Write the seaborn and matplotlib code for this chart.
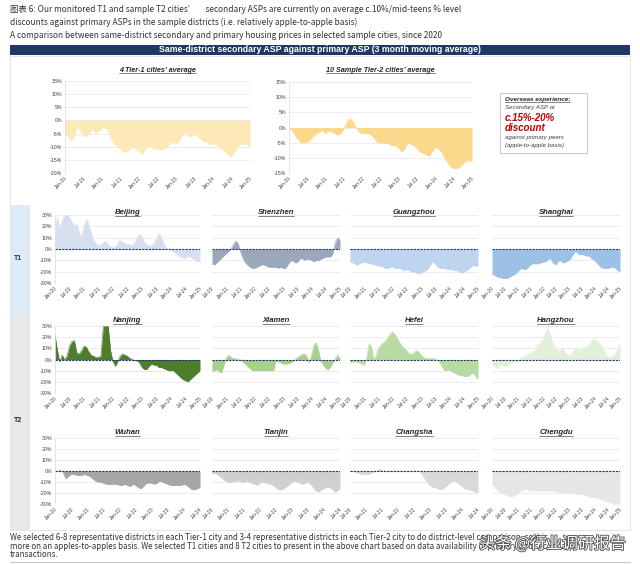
import numpy as np
import pandas as pd
import matplotlib
matplotlib.use("Agg")
import matplotlib.pyplot as plt
import matplotlib.patheffects as pe
from matplotlib.patches import Rectangle
from matplotlib.lines import Line2D
import seaborn as sns

sns.set_style("white")
plt.rcParams['font.family'] = ['Liberation Sans', 'DejaVu Sans']

# secondary vs primary ASP gap (%), monthly
t1_avg = [-5, -6, -8, -6, -2, -4, -6, -6, -5, -3, -5, -4,
          -3, -3, -4, -7, -9, -10, -11, -12, -12, -11, -10, -11,
          -12, -13, -11, -10, -10, -11, -11, -11, -11, -10, -9, -8,
          -9, -8, -6, -5, -6, -6, -5, -6, -7, -8, -8, -9,
          -9, -9, -10, -11, -12, -13, -14, -12, -10, -9, -9, -9,
          -10]
t2_avg = [0, -1, -2.5, -4, -5, -5, -5, -4, -3, -2, -1.5, -1,
          -2, -1, -1.5, -2, -2.5, -2, -0.5, 2, 3, 2, 0, -1.5,
          -2, -2, -2, -2.5, -3.5, -5, -5, -5, -5, -5.5, -6, -6,
          -7, -8, -7, -5, -5.5, -6, -7, -8, -8.5, -9, -9.5, -8,
          -6.5, -7, -8, -10, -11.5, -13, -13.5, -13.5, -13, -12, -11, -11,
          -11]
beijing = [20, 28, 18, 25, 30, 30, 28, 24, 20, 22, 15, 10,
           20, 26, 22, 14, 7, 5, 3, 4, 6, 7, 4, 2,
           1, 2, 5, 8, 6, 5, 4, 4, 3, 6, 11, 13,
           11, 6, 4, 3, 3, 5, 9, 14, 11, 5, 1, 0,
           -1, -2, -4, -6, -7, -8, -8, -6, -7, -8, -10, -11,
           -11]
shenzhen = [-13, -14, -12, -10, -8, -6,
            -4, -2, 0, 4, 7, 5, -2, -8, -12, -14, -16, -17,
            -17, -16, -15, -14, -14, -15, -16, -16, -16, -16, -17, -16,
            -17, -17, -14, -11, -10, -12, -12, -9, -8, -10, -9, -9,
            -10, -11, -10, -10, -9, -8, -7, -7, -7, -4, 6, 10,
            8]
guangzhou = [-11, -12, -13, -14, -13, -12,
             -12, -12, -13, -13, -14, -14, -15, -15, -16, -17, -17, -16,
             -16, -17, -17, -17, -18, -19, -18, -19, -20, -20, -21, -22,
             -21, -20, -19, -17, -14, -11, -13, -16, -17, -17, -17, -18,
             -18, -18, -19, -19, -20, -21, -21, -19, -18, -16, -14, -15,
             -15]
shanghai = [-22, -23, -24, -25, -25, -26, -26, -26, -25, -24, -23, -22,
            -20, -18, -17, -18, -18, -16, -14, -13, -13, -13, -13, -12,
            -12, -11, -10, -8, -10, -13, -14, -11, -10, -12, -12, -11,
            -10, -8, -5, -2, -3, -5, -5, -5, -6, -6, -7, -9,
            -10, -12, -14, -16, -17, -17, -17, -17, -16, -16, -17, -19,
            -20]
nanjing = [22, 8, -2, 4, 0, 3, 12, 16, 17, 6, 5, 8,
           12, 11, 7, 4, 3, 2, 2, 3, 30, 30, 30, 8,
           -2, -6, -2, 3, 5, 4, 3, 1, 0, -1, -1, -3,
           -7, -9, -9, -6, -4, -5, -5, -7, -7, -8, -9, -10,
           -10, -10, -12, -14, -16, -18, -19, -20, -18, -16, -14, -12,
           -10]
xiamen = [-11, -10, -9, -11, -12, -5,
          2, 4, 2, 1, 1, 0, 0, -2, -4, -6, -8, -10,
          -10, -10, -10, -10, -10, -10, -10, -10, -10, -1, -2, -3,
          -4, -4, -4, -3, -2, 0, 2, 3, 5, 5, 3, -3,
          4, 13, 15, 8, -2, -5, -8, -9, -7, -3, 1, 4,
          1]
hefei = [-3, -2, -2, -2, -3, -4,
         -5, 2, 14, 12, 0, 4, 10, 13, 15, 17, 20, 23,
         25, 22, 19, 15, 12, 10, 8, 5, 5, 6, 8, 7,
         4, 2, 1, 1, 1, 1, 0, 0, -3, -7, -10, -10,
         -9, -11, -12, -13, -14, -14, -15, -15, -15, -13, -12, -15,
         -18]
hangzhou = [-4, -6, -8, -7, -5, -5, -6, -6, -5, -3, -3, -2,
            -2, 0, 2, 3, 4, 5, 6, 7, 8, 12, 14, 15,
            18, 24, 28, 25, 18, 13, 10, 8, 8, 10, 8, 5,
            4, 3, 7, 10, 9, 8, 9, 10, 11, 12, 15, 18,
            18, 17, 15, 13, 10, 7, 3, 2, 3, 3, 6, 10,
            14]
wuhan = [0, 0, 1, -1, -7, -5, -3, -3, -4, -4, -4, -3,
         -4, -5, -7, -9, -10, -10, -11, -12, -12, -12, -12, -12,
         -13, -13, -12, -13, -14, -12, -13, -15, -16, -14, -11, -11,
         -11, -12, -11, -9, -10, -11, -12, -13, -13, -13, -13, -13,
         -12, -13, -15, -17, -17, -16, -15]
tianjin = [-2, -2, -3, -5, -7, -9,
           -10, -10, -10, -9, -9, -10, -10, -9, -10, -11, -12, -13,
           -11, -10, -11, -11, -12, -13, -15, -17, -17, -16, -14, -12,
           -10, -9, -10, -11, -12, -11, -10, -12, -15, -18, -19, -17,
           -16, -15, -15, -16, -19, -18, -16]
changsha = [0, 0, -1, -2, -3, -3,
            -3, -3, -2, -1, 0, 2, 1, 0, 0, 0, 0, 0,
            0, 0, 0, 0, 0, 0, 0, 0, 0, -3, -7, -11,
            -13, -15, -15, -16, -17, -16, -14, -12, -10, -9, -10, -12,
            -14, -16, -17, -17, -18, -19, -20]
chengdu = [-12, -14, -16, -18, -19, -20, -21, -22, -23, -23, -23, -22,
           -21, -19, -18, -17, -17, -17, -18, -18, -18, -18, -18, -18,
           -18, -18, -18, -18, -18, -18, -19, -19, -19, -19, -20, -20,
           -20, -20, -20, -21, -21, -21, -21, -22, -22, -23, -24, -24,
           -24, -24, -25, -26, -26, -27, -28, -28, -29, -30, -30, -30,
           -30]

W, H = 640, 564
fig = plt.figure(figsize=(6.4, 5.64), dpi=100)
fig.patch.set_facecolor("white")
navy = "#1f3864"
to_underline = []


def px(x0, y0, x1, y1):
    return [x0 / W, 1 - y1 / H, (x1 - x0) / W, (y1 - y0) / H]


def ftext(x, y, s, **kw):
    return fig.text(x / W, 1 - y / H, s, **kw)


def area_chart(pos, start, values, color, ylim, step, title, title_y, title_size,
               show_y=False, zero_line=True, left_spine=False):
    ax = fig.add_axes(px(*pos))
    dates = pd.date_range(start, periods=len(values), freq="MS")
    df = pd.DataFrame({"date": dates, "gap": values})
    ax.fill_between(df["date"], 0, df["gap"], color=color, lw=0)
    sns.lineplot(data=df, x="date", y="gap", ax=ax, color=color, lw=0.4)
    ax.set_xlim(dates[0], dates[-1])
    ax.set_ylim(*ylim)
    yt = np.arange(ylim[0], ylim[1] + step / 2, step)
    ax.set_yticks(yt)
    if show_y:
        ax.set_yticklabels([f"{int(v)}%" for v in yt], fontsize=3.8, color="#404040")
    else:
        ax.set_yticklabels([])
    ticks = pd.date_range(dates[0], dates[-1], freq="6MS")
    ax.set_xticks(ticks)
    ax.set_xticklabels([d.strftime("%b-%y") for d in ticks], rotation=45,
                       ha="right", rotation_mode="anchor", fontsize=3.5, color="#404040")
    ax.tick_params(length=0, pad=2)
    ax.grid(axis="y", color="#e4e4e4", lw=0.5)
    ax.set_axisbelow(True)
    ax.set_xlabel("")
    ax.set_ylabel("")
    for s in ax.spines.values():
        s.set_visible(False)
    if left_spine:
        ax.spines["left"].set_visible(True)
        ax.spines["left"].set_color("#d9d9d9")
        ax.spines["left"].set_linewidth(0.5)
    if zero_line:
        ax.axhline(0, color=navy, lw=0.8, ls=(0, (2, 1)))
    t = ftext((pos[0] + pos[2]) / 2, title_y, title, ha="center", va="center",
              fontsize=title_size, fontweight="bold", fontstyle="italic", color="#262626")
    to_underline.append(t)
    return ax


# heading text
cjk = ['Noto Sans CJK SC', 'DejaVu Sans']
ftext(10, 9, "图表 6: Our monitored T1 and sample T2 cities’     secondary ASPs are currently on average c.10%/mid-teens % level",
      family=cjk, fontsize=6.0, va="center", color="#333333")
ftext(10, 22, "discounts against primary ASPs in the sample districts (i.e. relatively apple-to-apple basis)",
      family=cjk, fontsize=6.0, va="center", color="#333333")
ftext(10, 36, "A comparison between same-district secondary and primary housing prices in selected sample cities, since 2020",
      family=cjk, fontsize=6.0, va="center", color="#333333")

fig.add_artist(Rectangle((10 / W, 1 - 55 / H), 620 / W, 10 / H, transform=fig.transFigure,
                         color=navy, lw=0))
ftext(320, 50, "Same-district secondary ASP against primary ASP (3 month moving average)",
      ha="center", va="center", fontsize=6.3, fontweight="bold", color="white")

# outer frame and T1 / T2 side bands
fig.add_artist(Rectangle((10 / W, 1 - 530 / H), 620 / W, 474 / H, transform=fig.transFigure,
                         fill=False, ec="#dcdcdc", lw=0.5))
fig.add_artist(Rectangle((10 / W, 1 - 314 / H), 20 / W, 109 / H, transform=fig.transFigure,
                         color="#deeaf6", lw=0))
fig.add_artist(Rectangle((10 / W, 1 - 530 / H), 20 / W, 216 / H, transform=fig.transFigure,
                         color="#e8e8e8", lw=0))
ftext(18, 259, "T1", ha="center", va="center", fontsize=5, fontweight="bold", color="#1f3864")
ftext(18, 420, "T2", ha="center", va="center", fontsize=5, fontweight="bold", color="#262626")

# top row: averages
area_chart((65, 81, 250, 173), "2020-01", t1_avg, "#fde9b8", (-20, 15), 5,
           "4 Tier-1 cities’ average", 70, 5.2, show_y=True, zero_line=False, left_spine=True)
area_chart((289, 82, 472, 173), "2020-01", t2_avg, "#fbd98c", (-15, 15), 5,
           "10 Sample Tier-2 cities’ average", 70, 5.2, show_y=True, zero_line=False, left_spine=True)

# overseas experience box
fig.add_artist(Rectangle((501 / W, 1 - 154 / H), 87 / W, 60 / H, transform=fig.transFigure,
                         fc="#e6e6e6", lw=0))
fig.add_artist(Rectangle((500 / W, 1 - 153 / H), 87 / W, 60 / H, transform=fig.transFigure,
                         fc="white", ec="#bfbfbf", lw=0.6))
t = ftext(505, 100, "Overseas experience:", fontsize=4.6, fontweight="bold", fontstyle="italic",
          va="center", color="#262626")
to_underline.append(t)
ftext(505, 108, "Secondary ASP at", fontsize=4.4, fontstyle="italic", va="center", color="#404040")
ftext(505, 118, "c.15%-20%", fontsize=7, fontweight="bold", fontstyle="italic", va="center", color="#c00000")
ftext(505, 128, "discount", fontsize=7, fontweight="bold", fontstyle="italic", va="center", color="#c00000")
ftext(505, 138, "against primary peers", fontsize=4.4, fontstyle="italic", va="center", color="#404040")
ftext(505, 145, "(apple-to-apple basis)", fontsize=4.4, fontstyle="italic", va="center", color="#404040")

# city panels
cols = [(55, 200), (212, 340), (350, 478), (492, 620)]
rows = [(215, 283, 213), (326, 393, 321), (438, 504, 433)]
panels = [
    [("Beijing", "2020-01", beijing, "#d6dfee"), ("Shenzhen", "2020-07", shenzhen, "#9ba8bb"),
     ("Guangzhou", "2020-07", guangzhou, "#bdd5ef"), ("Shanghai", "2020-01", shanghai, "#9dc0e6")],
    [("Nanjing", "2020-01", nanjing, "#4e7d2e"), ("Xiamen", "2020-07", xiamen, "#a9d18e"),
     ("Hefei", "2020-07", hefei, "#b7dba0"), ("Hangzhou", "2020-01", hangzhou, "#e2efd9")],
    [("Wuhan", "2020-01", wuhan, "#a6a6a6"), ("Tianjin", "2020-07", tianjin, "#d0d0d0"),
     ("Changsha", "2020-07", changsha, "#d9d9d9"), ("Chengdu", "2020-01", chengdu, "#e6e6e6")],
]
for (y0, y1, ty), row in zip(rows, panels):
    for j, ((x0, x1), (name, start, vals, col)) in enumerate(zip(cols, row)):
        area_chart((x0, y0, x1, y1), start, vals, col, (-30, 30), 10, name, ty, 5.6,
                   show_y=(j == 0), zero_line=True, left_spine=(j == 0))

# footnote and watermark
foot = ["We selected 6-8 representative districts in each Tier-1 city and 3-4 representative districts in each Tier-2 city to do district-level comparison, so it is",
        "more on an apples-to-apples basis. We selected T1 cities and 8 T2 cities to present in the above chart based on data availability of primary and secondary,",
        "transactions."]
for i, line in enumerate(foot):
    ftext(10, 538 + i * 8.3, line, family=cjk, fontsize=5.7, va="center", color="#333333")
fig.add_artist(Line2D([10 / W, 630 / W], [1 - 562 / H, 1 - 562 / H], transform=fig.transFigure,
                      color="#c8c8c8", lw=0.8))
ftext(626, 544, "头条 @行业调研报告", family=cjk, fontsize=11.5, ha="right", va="center",
      color="white", path_effects=[pe.withStroke(linewidth=1.3, foreground="#555555")])

# underline the italic titles
fig.canvas.draw()
r = fig.canvas.get_renderer()
for t in to_underline:
    bb = t.get_window_extent(r)
    yl = bb.y0 + 0.6
    fig.add_artist(Line2D([bb.x0 / fig.bbox.width, bb.x1 / fig.bbox.width],
                          [yl / fig.bbox.height, yl / fig.bbox.height],
                          transform=fig.transFigure, color=t.get_color(), lw=0.4))

fig.savefig("out.png", dpi=100)
